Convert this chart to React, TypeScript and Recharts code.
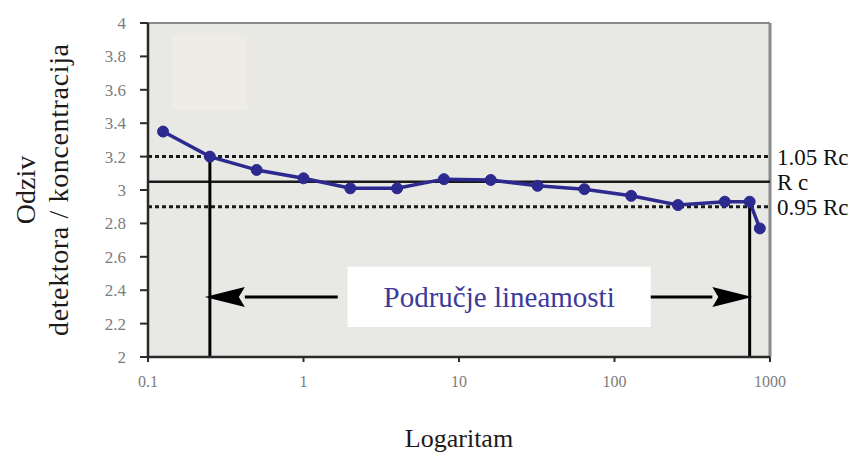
import { ComposedChart, Line, XAxis, YAxis, ReferenceLine, ReferenceArea, CartesianGrid } from 'recharts';

// concentration (log axis) vs detector response / concentration
const concentrations = [0.125, 0.25, 0.5, 1, 2, 4, 8, 16, 32, 64, 128, 256, 512, 740, 860];
const responses = [3.35, 3.2, 3.12, 3.07, 3.01, 3.01, 3.065, 3.06, 3.025, 3.005, 2.965, 2.91, 2.93, 2.93, 2.77];

const xTicks = [0.1, 1, 10, 100, 1000];
const yTicks = [2, 2.2, 2.4, 2.6, 2.8, 3, 3.2, 3.4, 3.6, 3.8, 4];

const rc = 3.05;
const rcUpper = 3.2;
const rcLower = 2.9;
const linearStart = 0.25;
const linearEnd = 740;
const arrowY = 2.36;
const boxX = [1.92, 171];
const boxY = [2.18, 2.54];

const data = concentrations.map((x, i) => ({ x, y: responses[i] }));

const SERIF = '"Liberation Serif", "Times New Roman", serif';
const BLUE = '#2c2a8e';

function Arrow(props: any) {
  const { x1, y1, x2, y2 } = props;
  const dir = x2 > x1 ? 1 : -1;
  const headLen = 40;
  const baseX = x2 - dir * headLen;
  return (
    <g>
      <line x1={x1} y1={y1} x2={baseX} y2={y2} stroke="#000" strokeWidth={3} />
      <polygon points={`${x2},${y2} ${baseX},${y2 - 10} ${baseX + dir * 6},${y2} ${baseX},${y2 + 10}`} fill="#000" />
    </g>
  );
}

function YTitle(props: any) {
  const { viewBox } = props;
  const cy = viewBox.y + viewBox.height / 2;
  const x1 = viewBox.x + 25;
  const x2 = viewBox.x + 58;
  return (
    <g fontFamily={SERIF} fontSize={28} fill="#1e1a1a">
      <text x={x1} y={cy} transform={`rotate(-90 ${x1} ${cy})`} textAnchor="middle" dominantBaseline="central">Odziv</text>
      <text x={x2} y={cy} transform={`rotate(-90 ${x2} ${cy})`} textAnchor="middle" dominantBaseline="central" textLength={292}>detektora / koncentracija</text>
    </g>
  );
}

function BoxLabel(props: any) {
  const { viewBox } = props;
  const cx = viewBox.x + viewBox.width / 2;
  const cy = viewBox.y + viewBox.height / 2;
  return (
    <text x={cx} y={cy} textAnchor="middle" dominantBaseline="central" fontFamily={SERIF} fontSize={29} fill="#3d3a9a">
      Područje lineamosti
    </text>
  );
}

const rightLabel = (value: string) => ({
  value,
  position: 'right' as const,
  offset: 7,
  fontFamily: SERIF,
  fontSize: 23,
  fill: '#111',
});

export default function App() {
  return (
    <div style={{ position: 'absolute', left: 0, top: 0, background: '#fff' }}>
      <ComposedChart width={868} height={453} data={data} margin={{ top: 23, right: 98, bottom: 46, left: 0 }}>
        <CartesianGrid fill="#e8e8e4" horizontal={false} vertical={false} />
        <ReferenceArea x1={0.143} x2={0.435} y1={3.48} y2={3.93} fill="#eeece5" fillOpacity={1} stroke="none" />
        <XAxis
          dataKey="x"
          type="number"
          scale="log"
          domain={[0.1, 1000]}
          ticks={xTicks}
          allowDataOverflow
          height={50}
          tickSize={5}
          tickMargin={14}
          axisLine={{ stroke: '#2a2a2a', strokeWidth: 2.5 }}
          tickLine={{ stroke: '#2a2a2a', strokeWidth: 2 }}
          tick={{ fill: '#7c7c7c', fontSize: 16, fontFamily: SERIF }}
          label={{ value: 'Logaritam', position: 'insideBottom', offset: -40, fill: '#1e1a1a', fontSize: 26, fontFamily: SERIF }}
        />
        <YAxis
          type="number"
          domain={[2, 4]}
          ticks={yTicks}
          width={148}
          tickSize={8}
          tickMargin={14}
          axisLine={{ stroke: '#2a2a2a', strokeWidth: 2.5 }}
          tickLine={{ stroke: '#2a2a2a', strokeWidth: 2 }}
          tick={{ fill: '#7c7c7c', fontSize: 17, fontFamily: SERIF }}
          label={{ content: YTitle }}
        />
        <ReferenceLine y={4} stroke="#8a8a8a" strokeWidth={2} />
        <ReferenceLine x={1000} stroke="#8a8a8a" strokeWidth={3} />
        <ReferenceLine y={rcUpper} stroke="#1a1a1a" strokeWidth={3} strokeDasharray="4 3" label={rightLabel('1.05 Rc')} />
        <ReferenceLine y={rc} stroke="#1a1a1a" strokeWidth={2.5} label={rightLabel('R c')} />
        <ReferenceLine y={rcLower} stroke="#1a1a1a" strokeWidth={3} strokeDasharray="4 3" label={rightLabel('0.95 Rc')} />
        <ReferenceLine segment={[{ x: linearStart, y: 2 }, { x: linearStart, y: rcUpper }]} stroke="#000" strokeWidth={3} />
        <ReferenceLine segment={[{ x: linearEnd, y: 2 }, { x: linearEnd, y: rcLower }]} stroke="#000" strokeWidth={3} />
        <ReferenceLine segment={[{ x: 1.66, y: arrowY }, { x: 0.232, y: arrowY }]} shape={Arrow} />
        <ReferenceLine segment={[{ x: 171, y: arrowY }, { x: 770, y: arrowY }]} shape={Arrow} />
        <ReferenceArea x1={boxX[0]} x2={boxX[1]} y1={boxY[0]} y2={boxY[1]} fill="#ffffff" fillOpacity={1} stroke="none" label={{ content: BoxLabel }} />
        <Line
          dataKey="y"
          stroke={BLUE}
          strokeWidth={3.5}
          dot={{ r: 5.5, fill: BLUE, stroke: BLUE, strokeWidth: 1 }}
          isAnimationActive={false}
        />
      </ComposedChart>
    </div>
  );
}
